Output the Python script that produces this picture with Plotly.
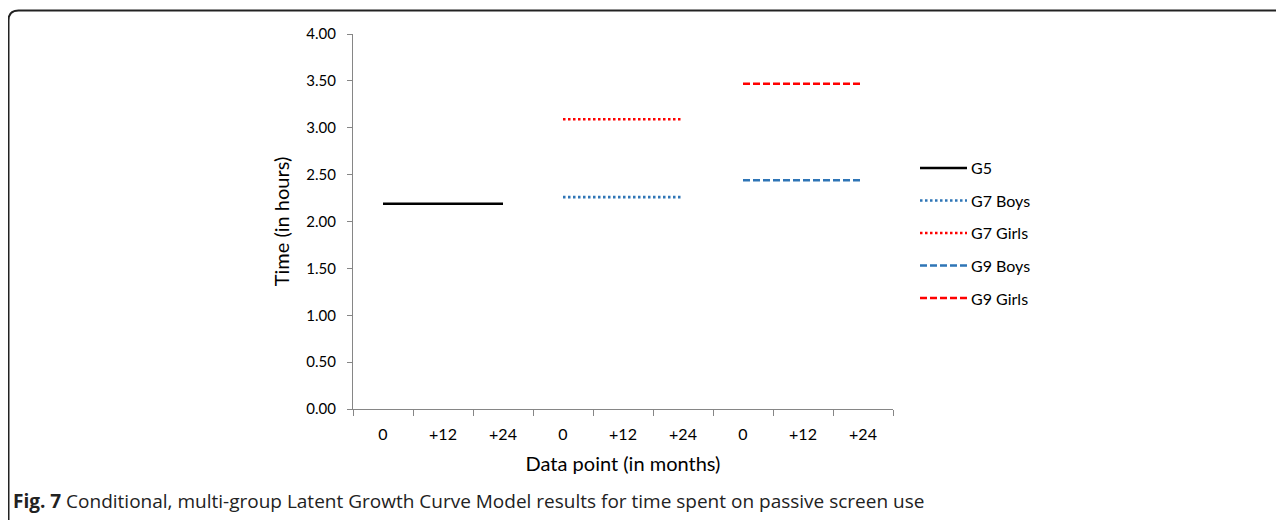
import plotly.graph_objects as go

# ---- data ----
time_labels = ["0", "+12", "+24", "0", "+12", "+24", "0", "+12", "+24"]
series_names = ["G5", "G7 Boys", "G7 Girls", "G9 Boys", "G9 Girls"]
series_slots = [[1, 2, 3], [4, 5, 6], [4, 5, 6], [7, 8, 9], [7, 8, 9]]
series_values = [
    [2.19, 2.19, 2.19],
    [2.26, 2.26, 2.26],
    [3.09, 3.09, 3.09],
    [2.44, 2.44, 2.44],
    [3.47, 3.47, 3.47],
]
y_ticks = [0, 0.5, 1.0, 1.5, 2.0, 2.5, 3.0, 3.5, 4.0]

colors = ["#000000", "#2E75B6", "#FF0000", "#2E75B6", "#FF0000"]
dashes = ["solid", "2.5px,2.5px", "2.5px,2.5px", "7px,3px", "7px,3px"]

# page body has an 8px offset; work in screen pixels
OFF = 8
W, H = 1284, 520
L, R, T, B = 353 - OFF, 1284 - (893 - OFF), 34 - OFF, 520 - (409 - OFF)
pw, ph = W - L - R, H - T - B

def px2x(p):
    return (p - OFF - L) / pw

def py2y(p):
    return (H - B - (p - OFF)) / ph

fig = go.Figure()
for i, name in enumerate(series_names):
    fig.add_trace(go.Scatter(
        x=series_slots[i], y=series_values[i], mode="lines", name=name,
        line=dict(color=colors[i], width=2.6, dash=dashes[i]),
        showlegend=False,
    ))

# manual legend (Excel style: long line sample)
for i, name in enumerate(series_names):
    ys = py2y(168 + 32.5 * i)
    fig.add_shape(type="line", xref="paper", yref="paper",
                  x0=px2x(920), x1=px2x(967), y0=ys, y1=ys,
                  line=dict(color=colors[i], width=2.6, dash=dashes[i]))
    fig.add_annotation(xref="paper", yref="paper", x=px2x(969), y=ys,
                       xanchor="left", yanchor="middle", showarrow=False,
                       text=name, font=dict(size=16))

fig.update_layout(
    width=W, height=H,
    margin=dict(l=L, r=R, t=T, b=B),
    paper_bgcolor="white", plot_bgcolor="white",
    font=dict(family="Lato, 'Liberation Sans', sans-serif", color="#000000", size=15),
    showlegend=False,
    xaxis=dict(
        range=[0.5, 9.5],
        tickmode="array", tickvals=list(range(1, 10)), ticktext=time_labels,
        ticks="", showgrid=False, zeroline=False,
        showline=True, linecolor="#868686", linewidth=1,
        ticklabelstandoff=11,
        tickfont=dict(size=16),
        minor=dict(tick0=0.5, dtick=1, ticks="outside", ticklen=6,
                   tickcolor="#868686", tickwidth=1, showgrid=False),
        title=dict(text="Data point (in months)", font=dict(size=20), standoff=14),
    ),
    yaxis=dict(
        range=[0, 4], tickmode="array", tickvals=y_ticks,
        ticktext=[f"{v:.2f}" for v in y_ticks],
        ticks="outside", ticklen=5, tickcolor="#868686",
        showgrid=False, zeroline=False,
        showline=True, linecolor="#868686", linewidth=1,
        ticklabelstandoff=8, tickfont=dict(size=15),
        title=dict(text="Time (in hours)", font=dict(size=20), standoff=11),
    ),
)

# caption
fig.add_annotation(
    xref="paper", yref="paper", x=px2x(11), y=py2y(501),
    xanchor="left", yanchor="middle", showarrow=False,
    text="<b>Fig. 7</b> Conditional, multi-group Latent Growth Curve Model results for time spent on passive screen use",
    font=dict(family="Open Sans, sans-serif", size=19, color="#222222"),
)

# rounded frame
x0, y0 = px2x(8.5), py2y(10.5)
x1, y1 = px2x(1320), py2y(560)
rx, ry = 10 / pw, 10 / ph
path = (f"M {x0},{y1} L {x0},{y0 - ry} Q {x0},{y0} {x0 + rx},{y0} "
        f"L {x1},{y0}")
fig.add_shape(type="path", xref="paper", yref="paper", path=path,
              line=dict(color="#222222", width=2), layer="above")

fig.write_html("out.html")
